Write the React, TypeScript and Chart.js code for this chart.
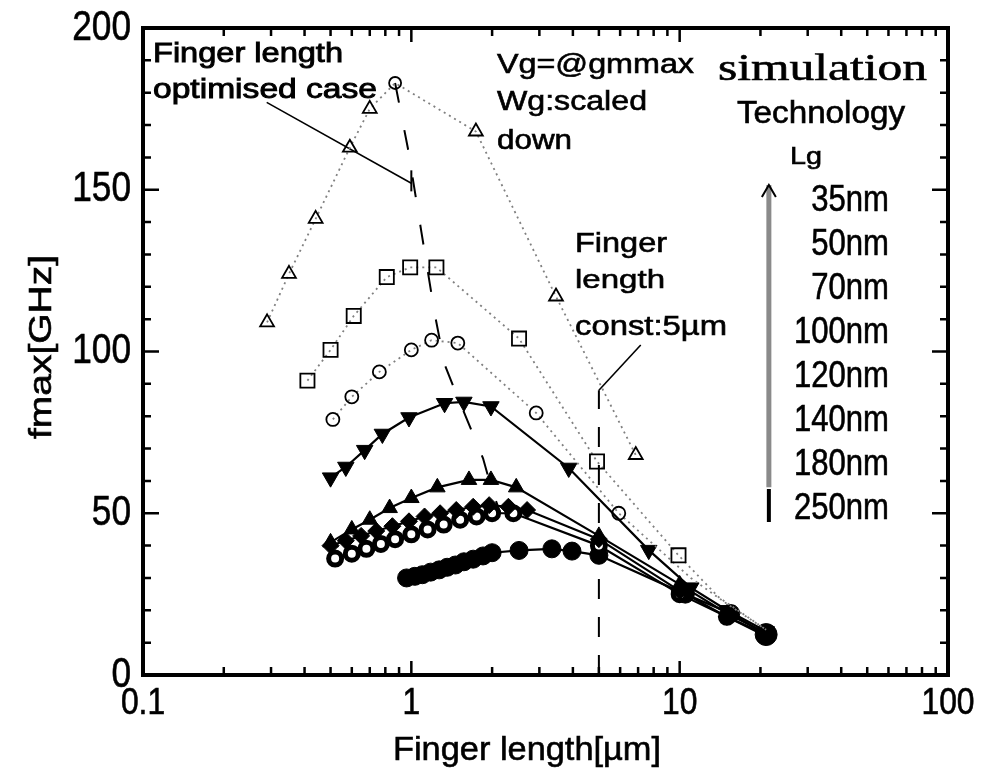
import React, { useEffect, useRef } from 'react';
import { Chart, registerables } from 'chart.js';

Chart.register(...registerables);

// fmax versus finger length, one series per gate length (Lg).
// x: finger length [µm], y: fmax [GHz]
const lg35X = [0.29, 0.35, 0.44, 0.59, 0.7, 0.87, 1.74, 3.46, 6.86];
const lg35Y = [109, 124, 141, 163, 175, 183, 168, 117, 68];

const lg50X = [0.41, 0.5, 0.61, 0.81, 0.99, 1.24, 2.52, 4.92, 9.9, 14, 21];
const lg50Y = [91, 100.5, 111, 123, 126, 126, 104, 66, 37, 24, 14];

const lg70X = [0.51, 0.6, 0.76, 1.0, 1.19, 1.49, 2.92, 5.93, 11, 15, 21];
const lg70Y = [79, 86, 93.7, 100.5, 103.5, 102.6, 81, 50, 30, 22, 14];

const lg100X = [0.5, 0.57, 0.67, 0.78, 0.98, 1.33, 1.57, 1.98, 3.86, 7.67, 11, 15, 21];
const lg100Y = [61, 64.3, 69.5, 74.5, 79.6, 84, 84.4, 83, 64, 38.6, 27, 20, 13.5];

const lg120X = [0.5, 0.6, 0.7, 0.83, 1.0, 1.25, 1.64, 1.98, 2.46, 5.0, 10, 15, 21];
const lg120Y = [41, 45, 48, 51.6, 54.7, 58, 60.3, 60.3, 58, 43, 28, 19, 13];

const lg140X = [0.5, 0.57, 0.65, 0.74, 0.85, 0.98, 1.12, 1.28, 1.47, 1.7, 1.95, 2.3, 2.7, 5.0, 10, 15, 21];
const lg140Y = [40, 41.5, 43, 44.5, 46, 47.5, 49, 50, 51, 52, 52.5, 52, 51, 42, 26, 18, 12.5];

const lg180X = [0.52, 0.6, 0.68, 0.77, 0.87, 1.0, 1.15, 1.32, 1.52, 1.75, 2.0, 2.4, 5.0, 10, 15, 21];
const lg180Y = [36, 37.5, 39, 40.5, 42, 43.5, 45, 46.5, 48, 49, 50, 50, 40, 25, 18, 12];

const lg250X = [0.96, 1.03, 1.1, 1.18, 1.27, 1.36, 1.46, 1.57, 1.7, 1.85, 2.0, 2.52, 3.34, 3.97, 5.0, 10.5, 15.5, 21];
const lg250Y = [30, 30.5, 31, 31.8, 32.5, 33.3, 34, 35, 35.8, 36.8, 37.8, 38.5, 39, 38.3, 37, 25, 19, 12.5];

// locus of the optimum finger length for each technology
const optX = [0.87, 0.97, 1.09, 1.22, 1.33, 1.47, 1.63, 1.85, 2.0, 2.15];
const optY = [183, 163, 137, 112, 96, 87, 78, 67, 57, 50];

// constant finger length of 5 µm
const constX = [5, 5];
const constY = [0, 88];

// leader lines of the two notes
const optNoteX = [0.289, 1.0];
const optNoteY = [177, 152];
const optNoteBarX = [1.0, 1.0];
const optNoteBarY = [149.5, 156];
const constNoteX = [7.16, 5.0];
const constNoteY = [102, 88];

// technology arrow (Lg scale)
const arrowX = [21.5, 21.5];
const arrowGrayY = [58, 151.5];
const arrowBlackY = [47.3, 57.5];

const yTicks = [0, 50, 100, 150, 200];
const xTicks = [0.1, 1, 10, 100];
const xTickText = ['0.1', '1', '10', '100'];
const techLabels = ['35nm', '50nm', '70nm', '100nm', '120nm', '140nm', '180nm', '250nm'];

const pts = (xs: number[], ys: number[]) => xs.map((x, i) => ({ x, y: ys[i] }));

const SANS = "'Liberation Sans', Arial, sans-serif";
const SERIF = "'Liberation Serif', 'Times New Roman', serif";

function drawText(
  ctx: CanvasRenderingContext2D,
  text: string,
  x: number,
  y: number,
  size: number,
  opts: { family?: string; sx?: number; width?: number; align?: string; baseline?: CanvasTextBaseline; stroke?: number } = {}
) {
  ctx.save();
  ctx.font = `${size}px ${opts.family || SANS}`;
  ctx.textBaseline = opts.baseline || 'alphabetic';
  ctx.textAlign = 'left';
  const w = ctx.measureText(text).width;
  const sx = opts.width ? opts.width / w : opts.sx || 1;
  ctx.translate(x, y);
  ctx.scale(sx, 1);
  let ox = 0;
  if (opts.align === 'center') ox = -w / 2;
  else if (opts.align === 'right') ox = -w;
  ctx.fillStyle = '#000';
  ctx.fillText(text, ox, 0);
  // slightly heavier strokes, like a photocopied print
  const sw = opts.stroke === undefined ? 0.6 : opts.stroke;
  if (sw > 0) {
    ctx.strokeStyle = '#000';
    ctx.lineWidth = sw;
    ctx.strokeText(text, ox, 0);
  }
  ctx.restore();
}

const framePlugin = {
  id: 'frameAndNotes',
  afterDatasetsDraw(chart: any) {
    const { ctx, chartArea: a, scales } = chart;
    const xs = scales.x;
    const ys = scales.y;
    ctx.save();
    ctx.strokeStyle = '#000';
    ctx.lineWidth = 4;
    ctx.strokeRect(a.left, a.top, a.right - a.left, a.bottom - a.top);

    // y ticks on both sides, pointing inwards
    ctx.lineWidth = 2.5;
    for (let v = 0; v <= 200; v += 10) {
      const py = ys.getPixelForValue(v);
      const len = v % 50 === 0 ? 16 : 8;
      ctx.beginPath();
      ctx.moveTo(a.left, py);
      ctx.lineTo(a.left + len, py);
      ctx.moveTo(a.right, py);
      ctx.lineTo(a.right - len, py);
      ctx.stroke();
    }
    // log ticks on top and bottom
    for (let d = 0.1; d < 100; d *= 10) {
      for (let m = 1; m <= 9; m++) {
        const v = d * m;
        const px = xs.getPixelForValue(v);
        const len = m === 1 ? 14 : 8;
        ctx.beginPath();
        ctx.moveTo(px, a.bottom);
        ctx.lineTo(px, a.bottom - len);
        ctx.moveTo(px, a.top);
        ctx.lineTo(px, a.top + len);
        ctx.stroke();
      }
    }

    // tick labels
    yTicks.forEach((v) => {
      drawText(ctx, String(v), 131, ys.getPixelForValue(v), 42, { sx: 0.84, align: 'right', baseline: 'middle' });
    });
    xTicks.forEach((v, i) => {
      drawText(ctx, xTickText[i], xs.getPixelForValue(v), 704, 37, { sx: 0.86, align: 'center', baseline: 'middle' });
    });

    // axis titles
    drawText(ctx, 'Finger length[µm]', 393, 760, 34, { width: 268 });
    ctx.save();
    ctx.translate(51, 347);
    ctx.rotate(-Math.PI / 2);
    drawText(ctx, 'fmax[GHz]', 0, 0, 31, { width: 184, align: 'center' });
    ctx.restore();

    // notes
    drawText(ctx, 'Finger length', 153, 62, 27, { width: 190, stroke: 0.9 });
    drawText(ctx, 'optimised case', 153, 98, 27, { width: 224, stroke: 0.9 });
    drawText(ctx, 'Vg=@gmmax', 497, 73, 27, { width: 197 });
    drawText(ctx, 'Wg:scaled', 497, 110, 27, { width: 150 });
    drawText(ctx, 'down', 497, 149, 27, { width: 75 });
    drawText(ctx, 'simulation', 718, 80, 38, { width: 209, family: SERIF });
    drawText(ctx, 'Technology', 737, 123, 31, { width: 168 });
    drawText(ctx, 'Lg', 790, 164, 24, { width: 32 });
    drawText(ctx, 'Finger', 575, 252, 27, { width: 92 });
    drawText(ctx, 'length', 575, 288, 26, { width: 90 });
    drawText(ctx, 'const:5µm', 575, 335, 27, { width: 152 });

    techLabels.forEach((t, i) => {
      drawText(ctx, t, 889, 201 + i * 43.9, 37, { sx: 0.84, align: 'right', baseline: 'middle' });
    });

    // arrow head of the technology arrow
    const ax = xs.getPixelForValue(arrowX[1]);
    const ay = ys.getPixelForValue(arrowGrayY[1]);
    ctx.strokeStyle = '#000';
    ctx.lineWidth = 2;
    ctx.beginPath();
    ctx.moveTo(ax - 7, ay + 12);
    ctx.lineTo(ax, ay);
    ctx.lineTo(ax + 7, ay + 12);
    ctx.stroke();
    ctx.restore();
  },
};

const openStyle = {
  pointBackgroundColor: 'rgba(255,255,255,0)',
  pointBorderColor: '#000',
  pointBorderWidth: 1.8,
  borderColor: '#808080',
  borderWidth: 1.8,
  borderDash: [2, 4],
};

const filledStyle = {
  pointBackgroundColor: '#000',
  pointBorderColor: '#000',
  pointBorderWidth: 1,
  borderColor: '#000',
  borderWidth: 2.2,
};

const guide = (data: any[], color: string, width: number, dash: number[] = []) => ({
  data,
  borderColor: color,
  borderWidth: width,
  borderDash: dash,
  pointRadius: 0,
  showLine: true,
  fill: false,
});

export default function App() {
  const ref = useRef<HTMLCanvasElement>(null);

  useEffect(() => {
    if (!ref.current) return;
    const chart = new Chart(ref.current, {
      type: 'line',
      data: {
        datasets: [
          {
            label: '35nm',
            data: pts(lg35X, lg35Y),
            ...openStyle,
            pointStyle: (c: any) => (c.dataIndex === 5 ? 'circle' : 'triangle'),
            pointRadius: (c: any) => (c.dataIndex === 5 ? 6 : 8),
          },
          { label: '50nm', data: pts(lg50X, lg50Y), ...openStyle, pointStyle: 'rect', pointRadius: (c: any) => (c.dataIndex > 8 ? 0 : 10) },
          { label: '70nm', data: pts(lg70X, lg70Y), ...openStyle, pointStyle: 'circle', pointRadius: (c: any) => (c.dataIndex > 7 ? 0 : 6.5) },
          { label: '100nm', data: pts(lg100X, lg100Y), ...filledStyle, pointStyle: 'triangle', rotation: 180, pointRadius: 9.5 },
          { label: '120nm', data: pts(lg120X, lg120Y), ...filledStyle, pointStyle: 'triangle', pointRadius: 9 },
          { label: '140nm', data: pts(lg140X, lg140Y), ...filledStyle, pointStyle: 'rectRot', pointRadius: 8.5 },
          {
            label: '180nm',
            data: pts(lg180X, lg180Y),
            ...filledStyle,
            pointStyle: 'circle',
            pointBackgroundColor: '#fff',
            pointBorderWidth: 5,
            pointRadius: 6.5,
          },
          { label: '250nm', data: pts(lg250X, lg250Y), ...filledStyle, pointStyle: 'circle', pointRadius: (c: any) => (c.dataIndex === 17 ? 11 : 9) },
          guide(pts(optX, optY), '#000', 2, [20, 28]),
          guide(pts(constX, constY), '#000', 2, [20, 18]),
          guide(pts(optNoteX, optNoteY), '#000', 1.6),
          guide(pts(optNoteBarX, optNoteBarY), '#000', 2),
          guide(pts(constNoteX, constNoteY), '#000', 1.6),
          guide(pts(arrowX, arrowGrayY), '#8a8a8a', 5),
          guide(pts(arrowX, arrowBlackY), '#000', 4),
        ],
      },
      options: {
        responsive: false,
        animation: false,
        devicePixelRatio: 1,
        layout: { padding: { left: 143, top: 28, right: 50, bottom: 97 } },
        plugins: { legend: { display: false }, tooltip: { enabled: false } },
        elements: { line: { tension: 0 } },
        scales: {
          x: { type: 'logarithmic', min: 0.1, max: 100, display: false },
          y: { type: 'linear', min: 0, max: 200, display: false },
        },
      },
      plugins: [framePlugin],
    } as any);
    return () => chart.destroy();
  }, []);

  return (
    <div style={{ position: 'absolute', left: 0, top: 0, width: 998, height: 772, background: '#fff' }}>
      <canvas ref={ref} width={998} height={772} style={{ display: 'block' }} />
    </div>
  );
}
